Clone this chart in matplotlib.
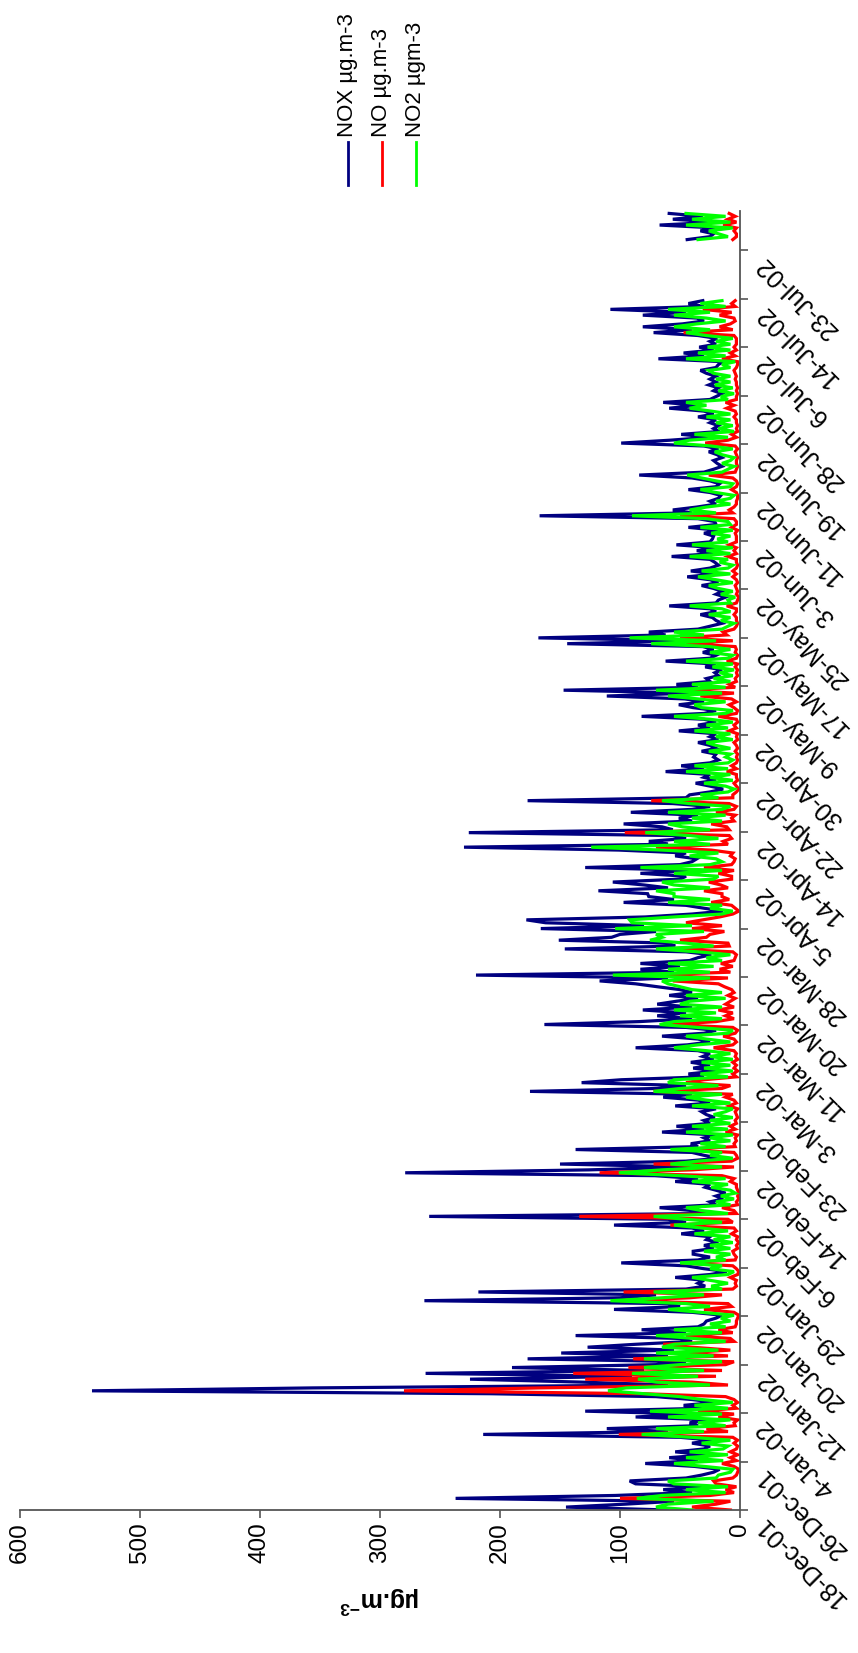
import numpy as np
import matplotlib
matplotlib.use("Agg")
import matplotlib.pyplot as plt
from matplotlib.lines import Line2D
from matplotlib.transforms import offset_copy

plt.rcParams['font.family'] = ['Liberation Sans', 'DejaVu Sans']
plt.rcParams['mathtext.fontset'] = 'custom'
plt.rcParams['mathtext.rm'] = 'Liberation Sans'
plt.rcParams['mathtext.bf'] = 'Liberation Sans:bold'

# ---- data: 12-hourly readings (None = missing) ----
STEP_HOURS = 12
nox = [
 60,145,96,55,237,104,40,64,30,87,
 92,45,32,22,17,38,79,35,59,28,
 54,30,25,40,22,50,214,60,111,35,
 42,25,87,40,129,30,47,20,40,70,
 208,540,356,60,133,225,90,262,80,190,
 70,45,177,60,149,55,127,87,40,50,
 137,45,82,35,30,28,20,15,40,105,
 50,60,263,100,70,218,45,29,35,30,
 54,25,11,30,45,99,35,25,39,39,
 22,30,18,28,25,49,30,40,105,45,
 60,259,26,40,67,20,25,14,20,12,
 20,29,25,54,35,71,279,126,40,150,
 45,17,30,40,137,35,41,25,30,20,
 65,30,53,25,30,21,28,32,20,54,
 25,35,64,40,175,69,45,132,99,30,
 43,20,39,25,41,22,31,25,35,87,
 44,25,35,65,30,20,45,163,84,40,
 69,45,81,40,69,53,35,59,40,50,
 69,87,117,60,220,55,83,50,83,42,
 35,24,45,146,54,60,151,107,100,70,
 166,80,162,178,79,40,14,30,45,97,
 55,76,77,118,60,80,106,50,45,83,
 37,129,50,40,36,54,45,101,230,60,
 76,45,56,226,56,65,97,40,51,35,
 91,40,25,56,177,45,42,25,14,25,
 37,20,30,25,62,30,49,25,18,22,
 20,32,20,25,35,18,25,20,51,25,
 35,20,30,82,30,20,39,51,30,46,
 111,40,147,35,53,25,28,18,21,15,
 29,20,62,25,20,31,22,31,144,44,
 168,62,76,35,25,15,20,23,33,20,
 25,59,20,18,12,20,15,22,32,18,
 25,44,20,41,25,18,21,25,57,22,
 36,20,53,25,23,22,30,18,43,20,
 21,35,167,40,56,36,20,25,18,16,
 25,43,20,17,25,40,84,30,22,15,
 19,22,15,19,26,18,30,99,58,25,
 49,17,22,18,25,20,35,22,30,59,
 35,64,25,20,15,22,18,26,20,25,
 20,28,33,20,18,14,68,30,47,22,
 34,20,25,19,35,72,40,81,48,30,
 36,81,45,108,30,43,31,
 None,None,None,None,None,None,None,None,None,None,
 None,None,None,None,None,None,None,None,None,None,
 44,25,22,33,20,67,19,56,31,59,
]
no = [
 8,40,20,8,100,25,5,12,3,20,
 22,6,3,2,1,5,15,3,8,2,
 8,3,2,5,2,6,101,10,28,4,
 5,2,18,5,35,3,6,2,5,12,
 80,280,167,10,40,129,20,139,15,93,
 12,5,89,10,50,8,40,64,5,8,
 45,6,18,4,3,3,2,1,5,30,
 7,10,100,42,15,97,6,3,4,3,
 8,2,1,3,6,49,4,3,5,6,
 2,3,1,3,2,7,3,5,58,6,
 10,134,3,5,15,2,3,1,2,1,
 2,3,3,8,5,15,117,40,5,72,
 7,2,3,5,50,4,5,3,4,2,
 12,4,8,3,4,2,3,4,2,9,
 3,5,12,6,72,15,8,45,30,3,
 6,2,5,3,6,2,4,3,5,22,
 6,3,5,14,4,2,6,60,20,5,
 12,6,18,5,12,8,4,10,5,7,
 13,18,56,10,80,8,17,6,16,5,
 4,3,6,61,9,10,50,28,25,13,
 40,15,45,31,17,6,1,4,7,24,
 9,15,15,30,10,16,26,7,7,18,
 5,30,7,5,4,8,6,24,70,10,
 14,7,9,96,9,11,24,5,7,4,
 20,5,3,9,74,6,6,3,1,3,
 5,2,3,3,11,3,7,3,2,3,
 2,4,2,3,5,2,3,2,9,3,
 5,2,3,18,3,2,5,9,3,7,
 33,5,50,4,9,3,4,2,3,2,
 4,2,11,3,2,4,3,4,45,6,
 50,11,14,5,3,2,3,3,5,3,
 3,11,3,2,1,3,2,3,4,2,
 3,6,3,6,3,2,3,3,10,3,
 5,3,9,3,3,3,4,2,7,3,
 3,5,50,6,9,5,3,3,2,2,
 3,7,3,2,3,6,26,4,3,2,
 3,3,2,3,4,2,4,29,10,3,
 7,2,3,2,3,3,5,3,4,11,
 5,12,3,3,2,3,2,3,3,4,
 3,4,5,3,2,2,15,4,8,3,
 5,3,3,3,5,47,6,17,8,4,
 5,17,7,31,4,7,4,
 None,None,None,None,None,None,None,None,None,None,
 None,None,None,None,None,None,None,None,None,None,
 6,3,3,5,3,14,3,10,4,9,
]
no2 = [
 40,70,60,22,86,65,12,45,10,55,
 60,20,18,8,6,30,55,14,45,10,
 42,14,10,32,8,40,82,30,70,12,
 35,8,60,15,75,10,38,6,32,50,
 80,110,95,25,70,85,35,90,30,80,
 50,15,80,22,70,18,65,55,12,38,
 70,15,55,12,25,8,16,5,32,60,
 25,45,108,65,30,72,15,24,10,25,
 40,10,5,25,15,50,12,20,8,30,
 8,25,6,22,8,38,10,32,55,15,
 45,72,10,32,45,8,20,5,16,4,
 8,24,10,40,12,50,101,65,15,58,
 35,6,25,15,58,12,33,8,25,6,
 45,10,40,8,25,6,22,12,6,40,
 8,28,45,15,72,50,18,60,55,10,
 33,6,30,8,32,6,25,8,28,55,
 35,8,28,45,10,6,35,67,55,15,
 50,20,55,15,50,42,12,45,15,40,
 50,60,65,25,106,25,60,22,60,15,
 28,8,35,70,22,45,75,65,70,30,
 104,40,90,92,55,15,6,25,15,60,
 25,55,55,70,25,55,65,22,18,55,
 15,83,25,15,20,42,18,65,124,25,
 55,18,42,79,25,48,60,15,40,12,
 60,15,8,42,65,18,33,10,5,12,
 30,6,25,8,45,10,38,10,6,12,
 8,26,8,20,28,6,20,8,38,10,
 28,6,25,55,12,6,32,38,12,35,
 60,15,70,12,40,8,22,6,17,5,
 23,6,45,10,6,25,8,25,74,20,
 92,30,55,15,10,5,16,8,26,8,
 15,42,8,10,4,16,6,18,26,6,
 20,35,8,32,10,6,17,10,42,8,
 28,6,40,10,19,8,24,6,33,8,
 10,28,90,20,42,28,8,20,8,5,
 20,33,8,6,20,32,44,15,10,5,
 15,8,5,15,21,6,24,55,42,10,
 38,5,18,6,20,8,28,8,24,42,
 28,45,10,16,5,18,6,21,8,20,
 8,22,26,8,15,4,45,12,35,8,
 27,8,20,6,28,45,25,55,36,12,
 28,55,25,60,12,33,15,
 None,None,None,None,None,None,None,None,None,None,
 None,None,None,None,None,None,None,None,None,None,
 35,10,18,26,6,45,8,40,12,45,
]
date_labels = ["18-Dec-01", "26-Dec-01", "4-Jan-02", "12-Jan-02", "20-Jan-02",
               "29-Jan-02", "6-Feb-02", "14-Feb-02", "23-Feb-02", "3-Mar-02",
               "11-Mar-02", "20-Mar-02", "28-Mar-02", "5-Apr-02", "14-Apr-02",
               "22-Apr-02", "30-Apr-02", "9-May-02", "17-May-02", "25-May-02",
               "3-Jun-02", "11-Jun-02", "19-Jun-02", "28-Jun-02", "6-Jul-02",
               "14-Jul-02", "23-Jul-02"]
TICK_EVERY_HOURS = 200
value_ticks = [0, 100, 200, 300, 400, 500, 600]
series_names = ["NOX µg.m-3", "NO µg.m-3", "NO2 µgm-3"]
series_colors = ["#000080", "#FF0000", "#00FF00"]

nox_a = np.array(nox, dtype=float)
no_a = np.array(no, dtype=float)
no2_a = np.array(no2, dtype=float)
hours = np.arange(len(nox_a)) * STEP_HOURS

W, H = 858, 1653
fig = plt.figure(figsize=(W / 100, H / 100), dpi=100)
ax_left, ax_right, ax_top, ax_bottom = 20, 740, 211, 1510
ax = fig.add_axes([ax_left / W, 1 - ax_bottom / H, (ax_right - ax_left) / W,
                   (ax_bottom - ax_top) / H])

for vals, col in zip([nox_a, no_a, no2_a], series_colors):
    ax.plot(vals, hours, color=col, lw=2.3, solid_joinstyle='miter')

ax.set_xlim(600, 0)
ax.set_ylim(0, 5362)

axis_col = "#555555"
for s in ['top', 'left']:
    ax.spines[s].set_visible(False)
for s in ['right', 'bottom']:
    ax.spines[s].set_color(axis_col)
    ax.spines[s].set_linewidth(1.3)

ax.set_xticks(value_ticks)
ax.set_xticklabels([str(v) for v in value_ticks], rotation=90, ha='center', va='top',
                   fontsize=17.5)
ax.tick_params(axis='x', direction='out', length=6, width=1.2, color=axis_col, pad=3)

ytick_pos = [i * TICK_EVERY_HOURS for i in range(len(date_labels))]
ax.yaxis.tick_right()
ax.set_yticks(ytick_pos)
ax.tick_params(axis='y', direction='out', length=6, width=1.2, color=axis_col,
               labelright=False, labelleft=False)

trans = offset_copy(ax.get_yaxis_transform(), fig=fig, x=20, y=-10, units='dots')
for pos, lab in zip(ytick_pos, date_labels):
    ax.text(1.0, pos, lab, transform=trans, rotation=135, rotation_mode='anchor',
            ha='right', va='center', fontsize=18, clip_on=False)

ax.set_xlabel('µg.m$^{\\mathbf{-3}}$', rotation=180, fontweight='bold', fontsize=18,
              va='center', ha='center')
ax.xaxis.set_label_coords(0.5, (ax_bottom - 1600) / (ax_bottom - ax_top))

# legend (vertical entries at top)
leg_x = [348, 382, 416]
for x, name, col in zip(leg_x, series_names, series_colors):
    fig.add_artist(Line2D([x / W, x / W], [1 - 142 / H, 1 - 185 / H], color=col, lw=2))
    fig.text(x / W, 1 - 137 / H, name, rotation=90, ha='center', va='bottom', fontsize=16)

fig.savefig("out.png", dpi=100)
